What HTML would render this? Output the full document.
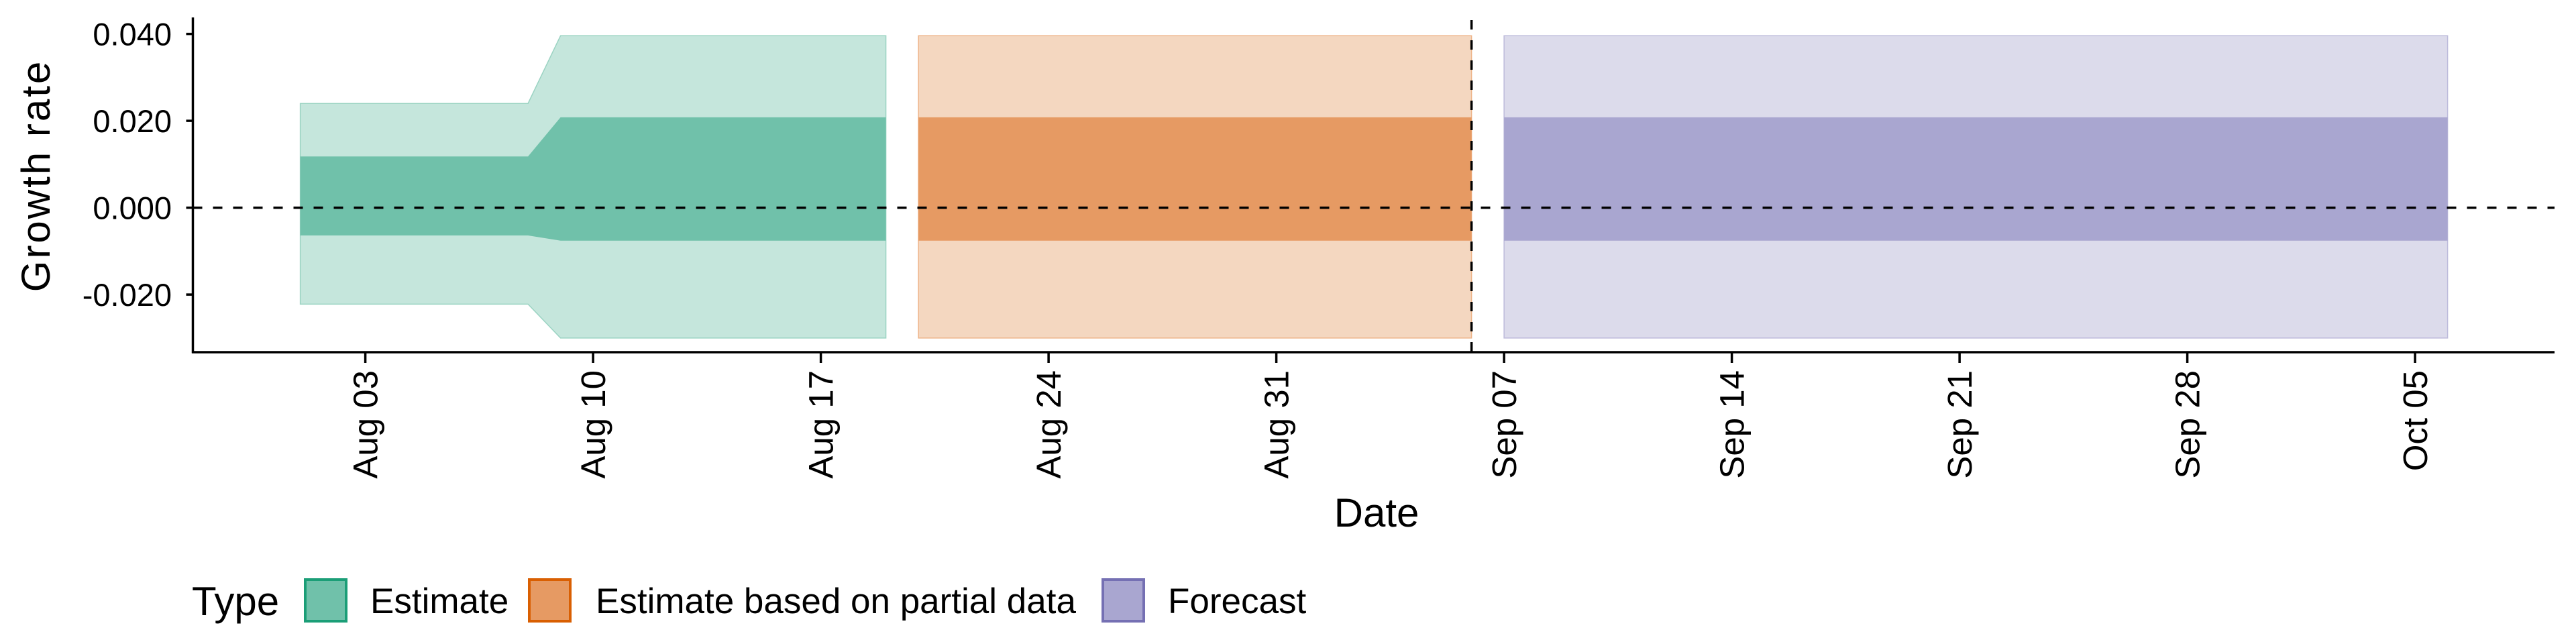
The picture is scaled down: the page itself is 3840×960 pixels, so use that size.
<!DOCTYPE html>
<html><head><meta charset="utf-8">
<style>
html,body{margin:0;padding:0;background:#fff;}
svg{display:block;font-family:"Liberation Sans",sans-serif;}
</style></head>
<body>
<svg id="chart" width="3840" height="960" viewBox="0 0 3840 960">
</svg>
<script>
// ---- data ----
const yTicks = [0.04, 0.02, 0.0, -0.02];
const yTickLabels = ["0.040", "0.020", "0.000", "-0.020"];
const xTickDays = [2, 9, 16, 23, 30, 37, 44, 51, 58, 65];
const xTickLabels = ["Aug 03", "Aug 10", "Aug 17", "Aug 24", "Aug 31", "Sep 07", "Sep 14", "Sep 21", "Sep 28", "Oct 05"];
const types = ["Estimate", "Estimate based on partial data", "Forecast"];
// day index: 0 = Aug 01
const estDays = [0, 7, 8, 18];
const estLower90 = [-0.0222, -0.0222, -0.030, -0.030];
const estLower50 = [-0.0064, -0.0064, -0.0076, -0.0076];
const estUpper50 = [0.0118, 0.0118, 0.0208, 0.0208];
const estUpper90 = [0.024, 0.024, 0.0396, 0.0396];
const partDays = [19, 36];
const partLower90 = [-0.030, -0.030];
const partLower50 = [-0.0076, -0.0076];
const partUpper50 = [0.0208, 0.0208];
const partUpper90 = [0.0396, 0.0396];
const fcDays = [37, 66];
const fcLower90 = [-0.030, -0.030];
const fcLower50 = [-0.0076, -0.0076];
const fcUpper50 = [0.0208, 0.0208];
const fcUpper90 = [0.0396, 0.0396];
const forecastStartDay = 36;

// ---- scales ----
const X0 = 447.6, PX_DAY = 48.5;
const Y0 = 309.6, PX_UNIT = 6475;
const xs = d => X0 + d * PX_DAY;
const ys = v => Y0 - v * PX_UNIT;
const axL = 287.5, axR = 3808, axB = 525;

const svg = document.getElementById('chart');
const NS = 'http://www.w3.org/2000/svg';
function mk(tag, attrs, parent) {
  const e = document.createElementNS(NS, tag);
  for (const k in attrs) e.setAttribute(k, attrs[k]);
  (parent || svg).appendChild(e);
  return e;
}
function band(days, lo, hi, fill, stroke, name) {
  let pts = days.map((d, i) => xs(d) + ',' + ys(hi[i]));
  pts = pts.concat(days.slice().reverse().map((d, j) => {
    const i = days.length - 1 - j; return xs(d) + ',' + ys(lo[i]);
  }));
  const p = mk('polygon', {points: pts.join(' '), fill: fill, stroke: stroke, 'stroke-width': 1.5});
  
  
}
band(estDays, estLower90, estUpper90, '#C5E6DC', '#9ad3c2', 'estimate-90-band');
band(estDays, estLower50, estUpper50, '#70C1AA', 'none', 'estimate-50-band');
band(partDays, partLower90, partUpper90, '#F4D7C0', '#eeb58a', 'partial-90-band');
band(partDays, partLower50, partUpper50, '#E69A63', 'none', 'partial-50-band');
band(fcDays, fcLower90, fcUpper90, '#DCDBEB', '#bdbbdb', 'forecast-90-band');
band(fcDays, fcLower50, fcUpper50, '#A9A6D0', 'none', 'forecast-50-band');

// reference lines
const zl = mk('line', {x1: axL, x2: axR, y1: ys(0), y2: ys(0), stroke: '#000', 'stroke-width': 3.5, 'stroke-dasharray': '14 16'});


const vl = mk('line', {x1: xs(forecastStartDay), x2: xs(forecastStartDay), y1: 30, y2: axB, stroke: '#000', 'stroke-width': 3.5, 'stroke-dasharray': '14 16'});



// axes
const ya = mk('line', {x1: axL, x2: axL, y1: 26, y2: axB + 1.5, stroke: '#000', 'stroke-width': 3.5});


const xa = mk('line', {x1: axL - 1.5, x2: axR, y1: axB, y2: axB, stroke: '#000', 'stroke-width': 3.5});



yTicks.forEach((v, i) => {
  const t = mk('line', {x1: axL - 10, x2: axL, y1: ys(v), y2: ys(v), stroke: '#000', 'stroke-width': 3.5});
  
  
  const tx = mk('text', {x: 256, y: ys(v) + 17, 'text-anchor': 'end', 'font-size': 47, fill: '#000'});
  tx.textContent = yTickLabels[i];
  
  
});
xTickDays.forEach((d, i) => {
  const t = mk('line', {x1: xs(d), x2: xs(d), y1: axB, y2: axB + 16, stroke: '#000', 'stroke-width': 3.5});
  
  
  const x = xs(d) + 18, y = 552;
  const tx = mk('text', {x: x, y: y, 'text-anchor': 'end', 'font-size': 51, fill: '#000', transform: 'rotate(-90 ' + x + ' ' + y + ')'});
  tx.textContent = xTickLabels[i];
  
  
});

const yt = mk('text', {x: 74, y: 262, 'text-anchor': 'middle', 'font-size': 60, 'letter-spacing': 3, fill: '#000', transform: 'rotate(-90 74 262)'});
yt.textContent = 'Growth rate';


const xt = mk('text', {x: 2052, y: 785, 'text-anchor': 'middle', 'font-size': 60, fill: '#000'});
xt.textContent = 'Date';



// legend
const lg = mk('g', {});


const lt = mk('text', {x: 286, y: 917, 'font-size': 60, fill: '#000'}, lg);
lt.textContent = 'Type';


const keyX = [453, 787, 1642];
const textX = [552, 888, 1741];
const keyFill = ['#70C1AA', '#E69A63', '#A9A6D0'];
const keyStroke = ['#1B9E77', '#D95F02', '#7570B3'];
types.forEach((name, i) => {
  const r = mk('rect', {x: keyX[i] + 2, y: 864, width: 61, height: 62, fill: keyFill[i], stroke: keyStroke[i], 'stroke-width': 4}, lg);
  
  
  const t = mk('text', {x: textX[i], y: 914, 'font-size': 53, fill: '#000'}, lg);
  t.textContent = name;
  
  
});
</script>
</body></html>
